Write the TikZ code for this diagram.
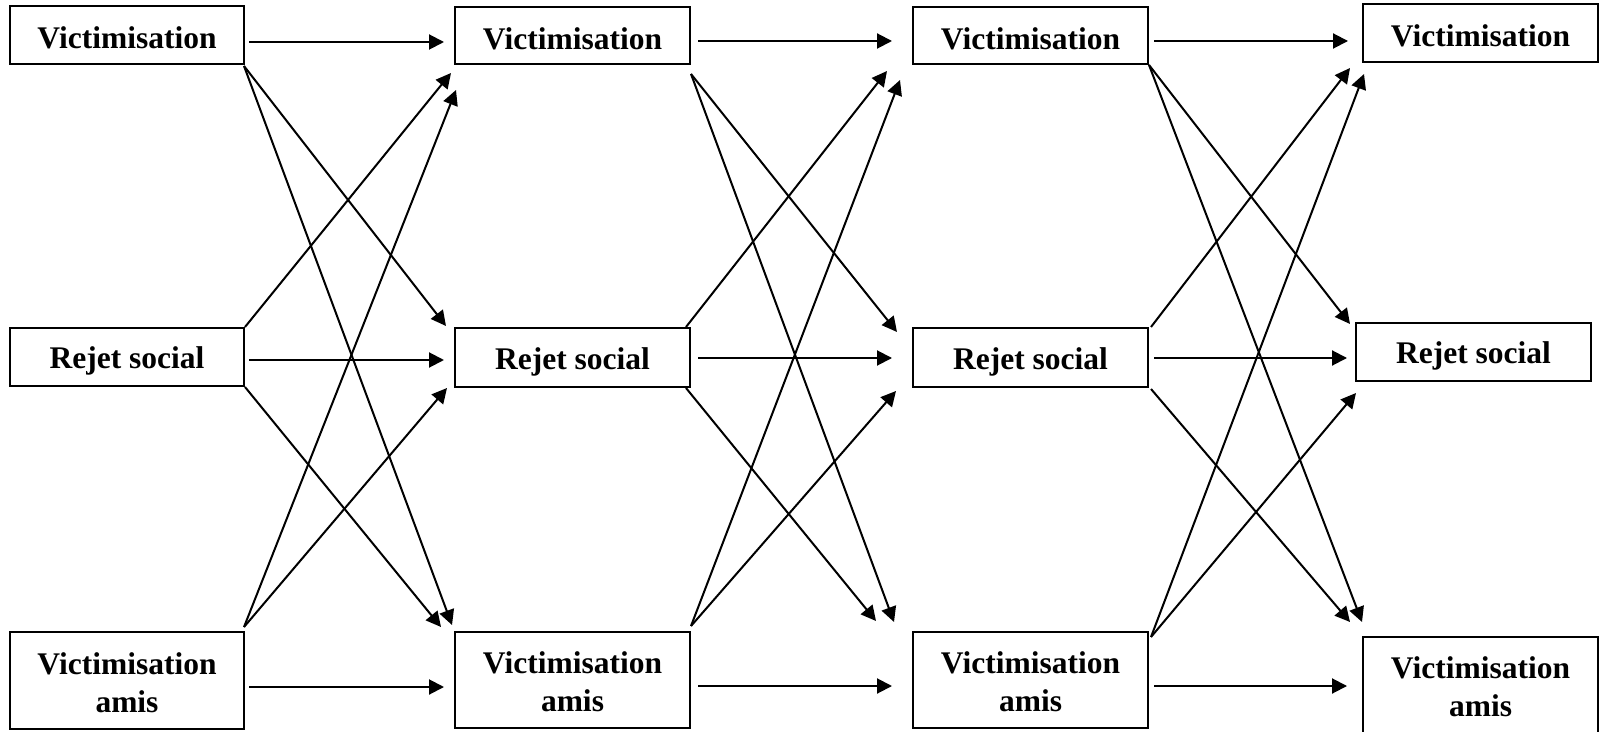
\documentclass[tikz,border=0pt]{standalone}
\usepackage{fontspec}
\setmainfont{Liberation Serif}
\usetikzlibrary{arrows.meta,calc}
\begin{document}
\begin{tikzpicture}[x=0.5pt,y=-0.5pt,
  box/.style={draw,line width=1pt,rectangle,inner sep=0pt},
  lbl/.style={inner sep=0pt,font=\fontsize{15.75}{19}\selectfont\bfseries,align=center},
  vic/.style={box,label={[lbl,yshift=-1.5pt]center:Victimisation}},
  rej/.style={box,label={[lbl,yshift=-2pt]center:Rejet social}},
  ami/.style={box,label={[lbl,yshift=-1pt]center:Victimisation\\amis}},
  arr/.style={line width=1pt,-{Triangle[length=7.5pt,width=7.5pt]}}]
\useasboundingbox (0,0) rectangle (1599,732);

% wave 1
\node[vic,minimum width=117pt,minimum height=29pt]   (v1) at (127,35)    {};
\node[rej,minimum width=117pt,minimum height=29pt]   (r1) at (127,357)   {};
\node[ami,minimum width=117pt,minimum height=48.5pt] (a1) at (127,680.5) {};
% wave 2
\node[vic,minimum width=117.5pt,minimum height=28.5pt] (v2) at (572.5,35.5)  {};
\node[rej,minimum width=117.5pt,minimum height=29.5pt] (r2) at (572.5,357.5) {};
\node[ami,minimum width=117.5pt,minimum height=48pt]   (a2) at (572.5,680)   {};
% wave 3
\node[vic,minimum width=117.5pt,minimum height=28.5pt] (v3) at (1030.5,35.5)  {};
\node[rej,minimum width=117.5pt,minimum height=29.5pt] (r3) at (1030.5,357.5) {};
\node[ami,minimum width=117.5pt,minimum height=48pt]   (a3) at (1030.5,680)   {};
% wave 4 (the last box runs past the lower edge)
\node[vic,minimum width=117.5pt,minimum height=29pt] (v4) at (1480.5,33)  {};
\node[rej,minimum width=117.5pt,minimum height=29pt] (r4) at (1473.5,352) {};
\node[box,minimum width=117.5pt,minimum height=54pt] (a4) at (1480.5,691) {};
\node[lbl] (a4t) at (1480.5,687) {Victimisation\\amis};

% wave 1 -> wave 2
\draw[arr] ($(v1.north east)+(4,37)$) -- ($(v2.north west)+(-10,36)$);
\draw[arr] ($(r1.north east)+(4,33)$) -- ($(r2.north west)+(-10,33)$);
\draw[arr] ($(a1.north east)+(4,56)$) -- ($(a2.north west)+(-10,56)$);
\draw[arr] ($(v1.south east)+(-1,1)$) -- ($(r2.north west)+(-8,-1)$);
\draw[arr] ($(v1.south east)+(-1,1)$) -- ($(a2.north west)+(-2,-6)$);
\draw[arr] (r1.north east) -- ($(v2.south west)+(-3,8)$);
\draw[arr] (r1.south east) -- ($(a2.north west)+(-13,-4)$);
\draw[arr] ($(a1.north east)+(-1,-4)$) -- ($(v2.south west)+(2,25)$);
\draw[arr] ($(a1.north east)+(-1,-4)$) -- ($(r2.south west)+(-7,0)$);

% wave 2 -> wave 3
\draw[arr] ($(v2.north east)+(7,35)$) -- ($(v3.north west)+(-20,35)$);
\draw[arr] ($(r2.north east)+(7,31)$) -- ($(r3.north west)+(-20,31)$);
\draw[arr] ($(a2.north east)+(7,55)$) -- ($(a3.north west)+(-20,55)$);
\draw[arr] ($(v2.south east)+(0,9)$) -- ($(r3.north west)+(-15,5)$);
\draw[arr] ($(v2.south east)+(0,9)$) -- ($(a3.north west)+(-18,-9)$);
\draw[arr] ($(r2.north east)+(-5,0)$) -- ($(v3.south west)+(-25,6)$);
\draw[arr] ($(r2.south east)+(-5,0)$) -- ($(a3.north west)+(-36,-10)$);
\draw[arr] ($(a2.north east)+(0,-5)$) -- ($(v3.south west)+(-12,15)$);
\draw[arr] ($(a2.north east)+(0,-5)$) -- ($(r3.south west)+(-16,3)$);

% wave 3 -> wave 4
\draw[arr] ($(v3.north east)+(5,35)$) -- ($(v4.north west)+(-14,38)$);
\draw[arr] ($(r3.north east)+(5,31)$) -- ($(r4.north west)+(-8,36)$);
\draw[arr] ($(a3.north east)+(5,55)$) -- ($(a4.north west)+(-15,50)$);
\draw[arr] (v3.south east) -- ($(r4.north west)+(-5,2)$);
\draw[arr] (v3.south east) -- ($(a4.north west)+(0,-14)$);
\draw[arr] ($(r3.north east)+(2,0)$) -- ($(v4.south west)+(-12,5)$);
\draw[arr] ($(r3.south east)+(2,1)$) -- ($(a4.north west)+(-12,-14)$);
\draw[arr] ($(a3.north east)+(2,6)$) -- ($(v4.south west)+(2,11)$);
\draw[arr] ($(a3.north east)+(2,6)$) -- ($(r4.south west)+(1,11)$);
\end{tikzpicture}
\end{document}
